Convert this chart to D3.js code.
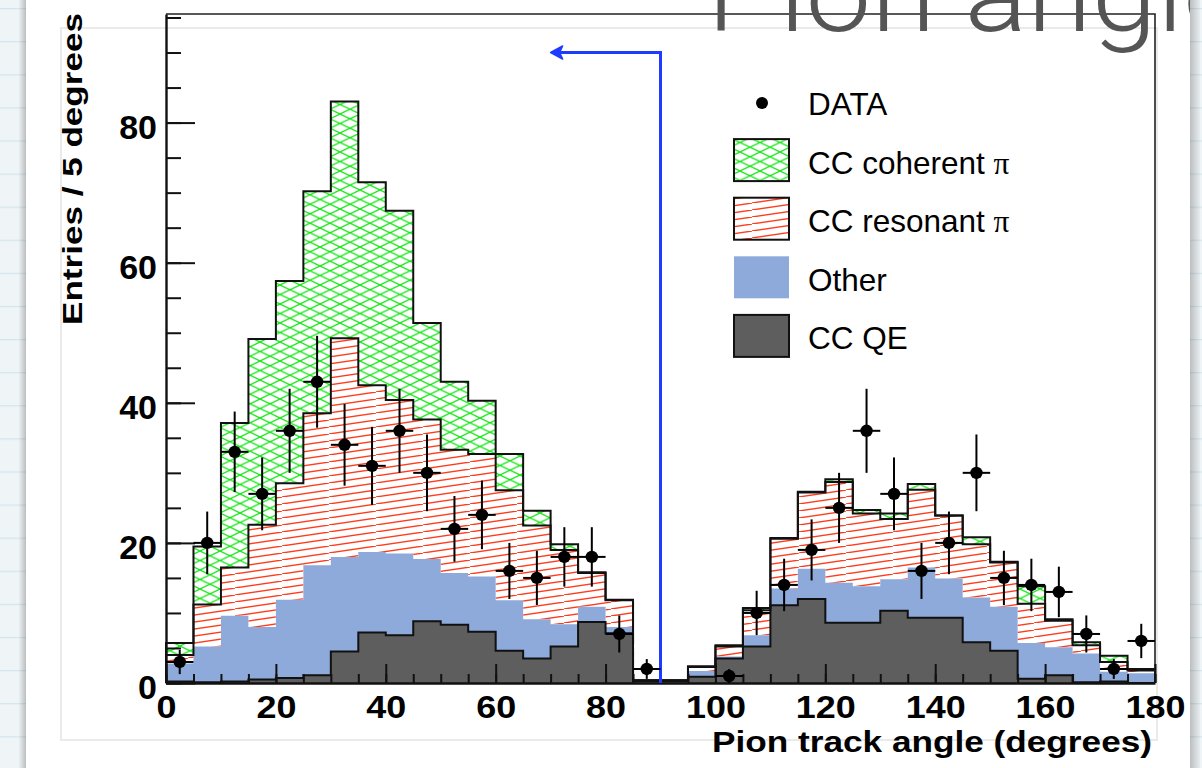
<!DOCTYPE html>
<html>
<head>
<meta charset="UTF-8">
<style>
  body { margin: 0; background: #f0f4f6; }
  svg { display: block; }
  text { font-family: "Liberation Sans", Arial, Helvetica, sans-serif; }
</style>
</head>
<body>
<svg id="chart" width="1202" height="768"></svg>

<script src="https://d3js.org/d3.v7.min.js"></script>
<script>

// 5 degree bins, 0 - 180
let binLo = d3.range(0, 180, 5);

// MC components per bin (stacked bottom to top)
let ccQE = [0.2, 0.1, 0.2, 0.5, 0.7, 1.1, 4.5, 7.2, 6.8, 8.8, 8.3, 7.3, 4.6, 3.5, 5.2, 8.7, 7.1, 0.3,
            0.3, 0.9, 3.5, 5.2, 11.1, 12.0, 8.6, 8.6, 10.3, 9.3, 9.3, 5.8, 4.6, 0.6, 1.1, 0.1, 0.2, 0.0];
let other = [2.6, 5.1, 9.4, 7.5, 11.2, 15.7, 13.5, 11.5, 11.7, 8.9, 7.4, 7.9, 7.2, 5.6, 3.2, 2.2, 0.9, 0.1,
             0.1, 0.8, 0.3, 1.6, 2.4, 4.3, 5.7, 5.2, 4.5, 7.2, 5.6, 6.4, 6.3, 5.1, 4.0, 4.1, 1.4, 1.4];
let ccRes = [1.2, 6.0, 6.9, 14.6, 16.6, 21.7, 31.2, 23.8, 21.9, 19.9, 17.6, 17.5, 15.7, 13.4, 10.6, 4.8, 3.8, 0.0,
             0.0, 0.6, 1.4, 3.6, 7.1, 10.9, 14.4, 10.4, 8.6, 11.1, 9.0, 7.6, 6.3, 5.6, 3.8, 1.2, 1.4, 0.4];
let ccCoh = [1.7, 8.3, 20.6, 26.5, 28.9, 31.7, 33.8, 29.0, 27.0, 13.8, 9.7, 7.6, 5.2, 2.1, 0.8, 0.1, 0.1, 0.0,
             0.0, 0.1, 0.2, 0.3, 0.1, 0.1, 0.4, 0.5, 0.8, 0.8, 0.0, 1.0, 0.1, 2.5, 0.2, 0.4, 0.9, 0.2];

// observed entries
let dataCounts = [3, 20, 33, 27, 36, 43, 34, 31, 36, 30, 22, 24, 16, 15, 18, 18, 7, 2,
                  0, 0, 1, 10, 14, 19, 25, 36, 27, 16, 20, 30, 15, 14, 13, 7, 2, 6];

let yMajor = [0, 20, 40, 60, 80];
let yMinor = d3.range(0, 96, 5);
let xMajor = [0, 20, 40, 60, 80, 100, 120, 140, 160, 180];
let xMinor = d3.range(0, 181, 5);

let legendLabels = ["DATA", "CC coherent ", "CC resonant ", "Other", "CC QE"];

// cut: keep tracks below 90 degrees
let cutAngle = 90, arrowEnd = 70, arrowLevel = 90;

let svg = d3.select("#chart");
let defs = svg.append("defs");

let x = d3.scaleLinear().domain([0, 180]).range([166, 1155]);
let y = d3.scaleLinear().domain([0, 95.5]).range([683, 14]);

// ---------- page / slide background ----------
let paper = defs.append("pattern").attr("id", "paper").attr("patternUnits", "userSpaceOnUse")
    .attr("x", 0).attr("y", 8).attr("width", 40).attr("height", 33.1);
paper.append("rect").attr("width", 40).attr("height", 33.1).attr("fill", "#eff4f6");
paper.append("line").attr("x1", 0).attr("x2", 40).attr("y1", 0.5).attr("y2", 0.5)
    .attr("stroke", "#d3e5ed").attr("stroke-width", 1.5);

let shL = defs.append("linearGradient").attr("id", "shadeL");
shL.append("stop").attr("offset", 0).attr("stop-color", "#000").attr("stop-opacity", 0.02);
shL.append("stop").attr("offset", 1).attr("stop-color", "#000").attr("stop-opacity", 0.22);
let shR = defs.append("linearGradient").attr("id", "shadeR");
shR.append("stop").attr("offset", 0).attr("stop-color", "#000").attr("stop-opacity", 0.22);
shR.append("stop").attr("offset", 1).attr("stop-color", "#000").attr("stop-opacity", 0.03);

svg.append("rect").attr("width", 1202).attr("height", 768).attr("fill", "url(#paper)");
svg.append("rect").attr("x", 19).attr("width", 7).attr("height", 768).attr("fill", "url(#shadeL)");
svg.append("rect").attr("x", 1190).attr("width", 10).attr("height", 768).attr("fill", "url(#shadeR)");
svg.append("rect").attr("x", 26).attr("width", 1164).attr("height", 768).attr("fill", "white");

defs.append("clipPath").attr("id", "slide")
  .append("rect").attr("x", 26).attr("width", 1164).attr("height", 768);

// canvas edge
svg.append("rect").attr("x", 61).attr("y", 28).attr("width", 1096).attr("height", 712)
    .attr("fill", "none").attr("stroke", "#e3e3e3").attr("stroke-width", 1.5);

// ---------- fill patterns ----------
let cohPat = defs.append("pattern").attr("id", "hatchCoh").attr("patternUnits", "userSpaceOnUse")
    .attr("width", 20).attr("height", 9.5);
cohPat.append("rect").attr("width", 20).attr("height", 9.5).attr("fill", "white");
cohPat.append("path").attr("d", "M-20,-9.5L40,19M-20,19L40,-9.5")
    .attr("stroke", "#12e612").attr("stroke-width", 1.25).attr("fill", "none");

let resPat = defs.append("pattern").attr("id", "hatchRes").attr("patternUnits", "userSpaceOnUse")
    .attr("width", 47).attr("height", 7);
resPat.append("rect").attr("width", 47).attr("height", 7).attr("fill", "white");
resPat.append("path").attr("d", "M-47,14L94,-7")
    .attr("stroke", "#ff3c1e").attr("stroke-width", 1.3).attr("fill", "none");

let colQE = "#5e5e5e", colOther = "#8eaadb";

// ---------- stacked histogram ----------
let bins = binLo.map((b, i) => {
  let q = ccQE[i], o = q + other[i], r = o + ccRes[i], t = r + ccCoh[i];
  return {lo: b, hi: b + 5, zero: 0, qe: q, oth: o, res: r, tot: t};
});

function band(k0, k1) {
  let pts = bins.flatMap(d => [{x: d.lo, a: d[k0], b: d[k1]}, {x: d.hi, a: d[k0], b: d[k1]}]);
  return d3.area().x(p => x(p.x)).y0(p => y(p.a)).y1(p => y(p.b))(pts);
}
function outline(k) {
  let pts = [[0, 0]].concat(bins.flatMap(d => [[d.lo, d[k]], [d.hi, d[k]]]), [[180, 0]]);
  return d3.line().x(p => x(p[0])).y(p => y(p[1]))(pts);
}

let hist = svg.append("g");
hist.append("path").attr("d", band("res", "tot")).attr("fill", "url(#hatchCoh)");
hist.append("path").attr("d", band("oth", "res")).attr("fill", "url(#hatchRes)");
hist.append("path").attr("d", band("qe", "oth")).attr("fill", colOther);
hist.append("path").attr("d", band("zero", "qe")).attr("fill", colQE);
["tot", "res", "qe"].forEach(k => {
  hist.append("path").attr("d", outline(k)).attr("fill", "none")
      .attr("stroke", "#111").attr("stroke-width", 2);
});

// ---------- frame + axes ----------
svg.append("path")
    .attr("d", "M" + x(0) + "," + y.range()[1] + "H" + x(180) + "V" + y(0))
    .attr("fill", "none").attr("stroke", "#222").attr("stroke-width", 1.6);

let yMinorAx = svg.append("g").attr("transform", "translate(" + x(0) + ",0)")
    .call(d3.axisLeft(y).tickValues(yMinor).tickSize(-15).tickFormat(""));
let yAx = svg.append("g").attr("transform", "translate(" + x(0) + ",0)")
    .call(d3.axisLeft(y).tickValues(yMajor).tickSize(-29).tickSizeOuter(0).tickPadding(9).tickFormat(d3.format("d")));
let xMinorAx = svg.append("g").attr("transform", "translate(0," + y(0) + ")")
    .call(d3.axisBottom(x).tickValues(xMinor).tickSize(-9).tickFormat(""));
let xAx = svg.append("g").attr("transform", "translate(0," + y(0) + ")")
    .call(d3.axisBottom(x).tickValues(xMajor).tickSize(-19).tickSizeOuter(0).tickFormat(d3.format("d")));

[yMinorAx, yAx, xMinorAx, xAx].forEach(g => {
  g.selectAll("line").attr("stroke", "#111").attr("stroke-width", 2);
  g.select(".domain").attr("stroke", "#111").attr("stroke-width", 2.4);
});
yMinorAx.select(".domain").remove();
xMinorAx.select(".domain").remove();

yAx.selectAll("text")
    .attr("dy", null).attr("y", 15.5)
    .style("font-size", "34px").style("font-weight", "bold").attr("fill", "#000")
    .style("font-family", "'Liberation Sans', Arial, sans-serif");
xAx.selectAll("text")
    .attr("dy", null).attr("y", 35)
    .attr("transform", "scale(1.16,1)")
    .style("font-size", "31px").style("font-weight", "bold").attr("fill", "#000")
    .style("font-family", "'Liberation Sans', Arial, sans-serif");

// axis titles
svg.append("text")
    .attr("x", 712).attr("y", 752)
    .attr("textLength", 440).attr("lengthAdjust", "spacingAndGlyphs")
    .style("font-size", "29.5px").style("font-weight", "bold")
    .text("Pion track angle (degrees)");
svg.append("text")
    .attr("transform", "translate(82,13) rotate(-90)")
    .attr("text-anchor", "end")
    .attr("textLength", 312).attr("lengthAdjust", "spacingAndGlyphs")
    .style("font-size", "28px").style("font-weight", "bold")
    .text("Entries / 5 degrees");

// ---------- cut arrow ----------
let blue = "#1e3cff";
svg.append("path")
    .attr("d", "M" + x(cutAngle) + "," + y(0) + "V" + y(arrowLevel) + "H" + (x(arrowEnd) + 8))
    .attr("fill", "none").attr("stroke", blue).attr("stroke-width", 3);
let tipX = x(arrowEnd), tipY = y(arrowLevel);
svg.append("path")
    .attr("d", "M" + tipX + "," + tipY + "l12,-6.5l-3,6.5l3,6.5z")
    .attr("fill", blue).attr("stroke", blue).attr("stroke-width", 1.5).attr("stroke-linejoin", "round");

// ---------- data points ----------
let pts = dataCounts.map((n, i) => ({c: binLo[i] + 2.5, n: n})).filter(d => d.n > 0);
let dg = svg.append("g").attr("stroke", "#000").attr("stroke-width", 2);
dg.selectAll(".ev").data(pts).enter().append("line")
    .attr("x1", d => x(d.c)).attr("x2", d => x(d.c))
    .attr("y1", d => y(d.n - Math.sqrt(d.n))).attr("y2", d => y(d.n + Math.sqrt(d.n)));
dg.selectAll(".eh").data(pts).enter().append("line")
    .attr("x1", d => x(d.c - 2.5)).attr("x2", d => x(d.c + 2.5))
    .attr("y1", d => y(d.n)).attr("y2", d => y(d.n));
svg.append("g").selectAll("circle").data(pts).enter().append("circle")
    .attr("cx", d => x(d.c)).attr("cy", d => y(d.n)).attr("r", 6.2).attr("fill", "#000");

// ---------- legend ----------
let leg = svg.append("g");
let rowY = i => 115 + 58.6 * i;
let boxFill = [null, "url(#hatchCoh)", "url(#hatchRes)", colOther, colQE];
legendLabels.forEach((lab, i) => {
  if (i == 0) {
    leg.append("circle").attr("cx", 762).attr("cy", rowY(0) - 12).attr("r", 6).attr("fill", "#000");
  } else {
    leg.append("rect").attr("x", 734).attr("y", rowY(i) - 34.5).attr("width", 55).attr("height", 42)
        .attr("fill", boxFill[i])
        .attr("stroke", i == 3 ? "none" : "#111").attr("stroke-width", 2);
  }
  let t = leg.append("text").attr("x", 808).attr("y", rowY(i)).style("font-size", "31.5px").text(lab);
  if (i == 1 || i == 2) {
    t.append("tspan").style("font-family", "'Liberation Serif', 'DejaVu Serif', serif").text("\u03c0");
  }
});

// ---------- title ----------
svg.append("text")
    .attr("clip-path", "url(#slide)")
    .attr("x", 707).attr("y", 31)
    .attr("textLength", 537).attr("lengthAdjust", "spacingAndGlyphs")
    .style("font-family", "Roboto, Lato, 'Liberation Sans', sans-serif")
    .style("font-weight", 300).style("font-size", "106px").attr("fill", "#555")
    .text("Pion angle");

</script>
</body>
</html>
